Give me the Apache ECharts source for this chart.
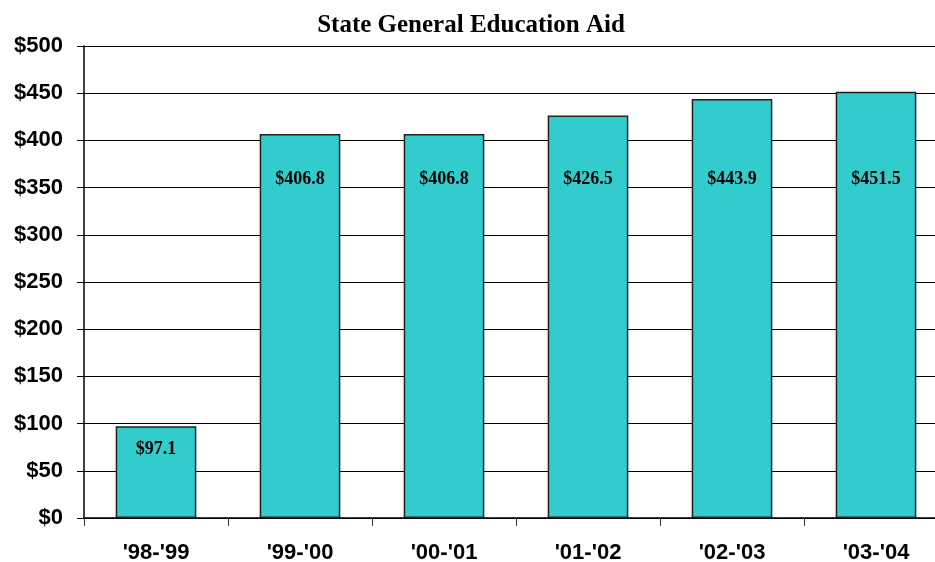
<!DOCTYPE html>
<html>
<head>
<meta charset="utf-8">
<script src="https://cdn.jsdelivr.net/npm/echarts@6/dist/echarts.min.js"></script>
<style>
  html, body { margin: 0; padding: 0; background: #fff; }
  #chart { width: 935px; height: 562px; }
</style>
</head>
<body>
<div id="chart"></div>
<script>
const years = ["'98-'99", "'99-'00", "'00-'01", "'01-'02", "'02-'03", "'03-'04"];
const aid = [97.1, 406.8, 406.8, 426.5, 443.9, 451.5];

const myChart = echarts.init(document.getElementById('chart'));
const option = {
  animation: false,
  title: {
    text: 'State General Education Aid',
    left: 466,
    textAlign: 'center',
    top: 8,
    textStyle: { fontFamily: 'Liberation Serif', fontWeight: 'bold', fontSize: 25, color: '#000' }
  },
  // the original is cropped on the right, so the grid runs past the edge
  grid: { left: 84, width: 864, top: 46, bottom: 44, outerBoundsMode: 'none', containLabel: false },
  xAxis: {
    type: 'category',
    data: years,
    axisLine: { lineStyle: { color: '#000', width: 1.5 } },
    axisTick: { show: true, length: 8, lineStyle: { color: '#333' } },
    axisLabel: {
      margin: 24,
      fontFamily: 'Liberation Sans', fontWeight: 'bold', fontSize: 22, color: '#000'
    }
  },
  yAxis: {
    type: 'value',
    min: 0, max: 500, interval: 50,
    axisLine: { show: true, lineStyle: { color: '#000', width: 1.5 } },
    axisTick: { show: true, length: 7, lineStyle: { color: '#000' } },
    splitLine: { lineStyle: { color: '#000', width: 1 } },
    axisLabel: {
      margin: 21,
      formatter: '${value}',
      fontFamily: 'Liberation Sans', fontWeight: 'bold', fontSize: 22, color: '#000'
    }
  },
  series: [{
    type: 'bar',
    data: aid,
    barCategoryGap: '44%',
    itemStyle: { color: '#33CCCC', borderColor: '#222', borderWidth: 1.5 },
    label: {
      show: true,
      position: 'insideTop',
      distance: 14,
      formatter: p => '$' + p.value.toFixed(1),
      fontFamily: 'Liberation Serif', fontWeight: 'bold', fontSize: 18, color: '#000'
    }
  }]
};
myChart.setOption(option);

// tall bars keep their labels on one line, like the original
const labelled = aid.map((v, i) => {
  const top = myChart.convertToPixel({ gridIndex: 0 }, [i, v])[1];
  return { value: v, label: { distance: Math.max(14, 170 - top) } };
});
myChart.setOption({ series: [{ data: labelled }] });
</script>
</body>
</html>
